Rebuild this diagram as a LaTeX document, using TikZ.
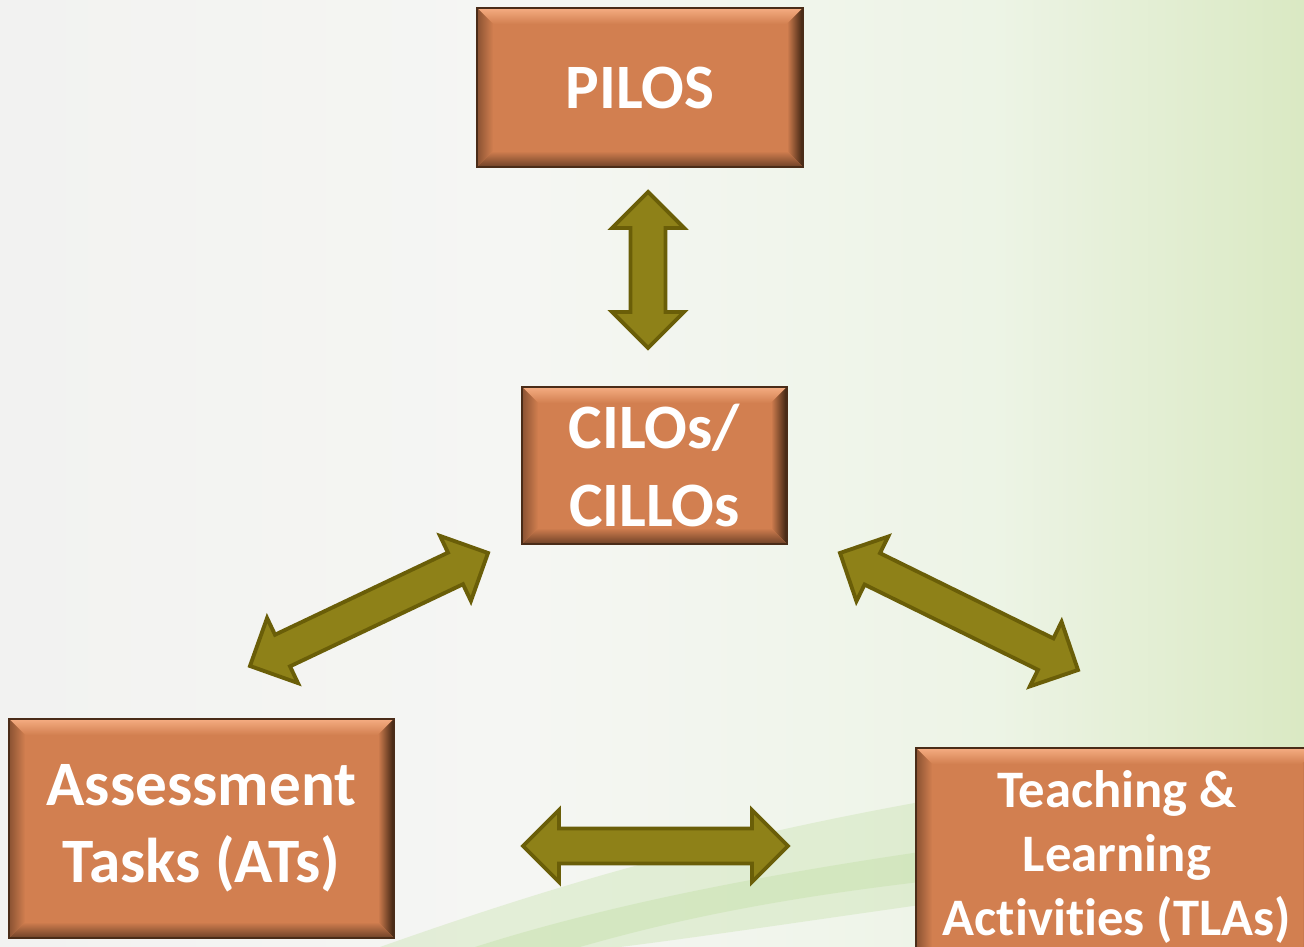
\documentclass[tikz,border=0pt]{standalone}
\usepackage{fontspec}
\setmainfont{Carlito}[Ligatures=NoCommon]
\usetikzlibrary{calc}

\definecolor{boxfill}{HTML}{D27F50}
\definecolor{boxline}{HTML}{4A2C18}
\definecolor{bevtop}{HTML}{F5AD82}
\definecolor{bevbot}{HTML}{6E4127}
\definecolor{bevdark}{HTML}{3A2110}
\definecolor{bevside}{HTML}{8A5232}
\definecolor{linkfill}{HTML}{8E8118}
\definecolor{linkline}{HTML}{6A5E08}
\definecolor{bgl}{HTML}{F2F2F1}
\definecolor{bgw}{HTML}{F5F6F3}
\definecolor{bgm}{HTML}{EDF4E6}
\definecolor{bgr}{HTML}{DAE9C3}
\definecolor{swoosh}{HTML}{C8E2AE}

\pgfdeclarehorizontalshading{backdrop}{100bp}{color(0bp)=(bgl); color(25bp)=(bgl);
  color(45bp)=(bgw); color(63bp)=(bgm); color(75bp)=(bgr); color(100bp)=(bgr)}

\newcommand{\twoway}[2]{%
  \draw[link] (#1)
    -- ($($(#1)!0.72cm!(#2)$)!0.72cm!90:(#2)$)
    -- ($($(#1)!0.72cm!(#2)$)!0.35cm!90:(#2)$)
    -- ($($(#2)!0.72cm!(#1)$)!0.35cm!-90:(#1)$)
    -- ($($(#2)!0.72cm!(#1)$)!0.72cm!-90:(#1)$)
    -- (#2)
    -- ($($(#2)!0.72cm!(#1)$)!0.72cm!90:(#1)$)
    -- ($($(#2)!0.72cm!(#1)$)!0.35cm!90:(#1)$)
    -- ($($(#1)!0.72cm!(#2)$)!0.35cm!-90:(#2)$)
    -- ($($(#1)!0.72cm!(#2)$)!0.72cm!-90:(#2)$)
    -- cycle;}

\begin{document}
\begin{tikzpicture}[main/.style={draw=boxline, line width=1pt, fill=boxfill, text=white, align=center, inner sep=0pt,
      font=\bfseries\fontsize{36}{44}\selectfont,
      path picture={
        \path (path picture bounding box.south west) coordinate (sw)
              (path picture bounding box.north east) coordinate (ne);
        \shade[top color=bevtop, bottom color=boxfill] (sw|-ne) -- (ne) -- ($(ne)+(-0.32,-0.32)$) -- ($(sw|-ne)+(0.32,-0.32)$) -- cycle;
        \shade[left color=boxfill, right color=bevdark] (ne) -- (ne|-sw) -- ($(ne|-sw)+(-0.32,0.32)$) -- ($(ne)+(-0.32,-0.32)$) -- cycle;
        \shade[top color=boxfill, bottom color=bevbot] (sw) -- (ne|-sw) -- ($(ne|-sw)+(-0.32,0.32)$) -- ($(sw)+(0.32,0.32)$) -- cycle;
        \shade[left color=bevside, right color=boxfill] (sw) -- (sw|-ne) -- ($(sw|-ne)+(0.32,-0.32)$) -- ($(sw)+(0.32,0.32)$) -- cycle;
      }},
    link/.style={draw=linkline, fill=linkfill, line width=2.2pt, line join=miter}]
  \useasboundingbox (0,0) rectangle (26.08,18.94);
  \clip (0,0) rectangle (26.08,18.94);
  \shade[shading=backdrop] (0,0) rectangle (26.08,18.94);
  \fill[swoosh, opacity=0.4] (7.6,0) .. controls (11,1.2) and (14,2.1) .. (18.4,2.9)
    -- (18.4,0.84) .. controls (16,0.5) and (14,0.2) .. (12.4,0) -- cycle;
  \fill[swoosh, opacity=0.5] (9.5,0) .. controls (12,0.8) and (15,1.4) .. (18.4,1.9)
    -- (18.4,1.3) .. controls (15,0.9) and (13,0.4) .. (11.6,0) -- cycle;

  \node[main, minimum width=6.52cm, minimum height=3.18cm] (0) at (12.8,17.19) {PILOS};
  \node[main, minimum width=5.3cm, minimum height=3.14cm] (1) at (13.09,9.63) {CILOs/\\CILLOs};
  \node[main, minimum width=7.7cm, minimum height=4.38cm] (2) at (4.03,2.37) {Assessment\\Tasks (ATs)};
  \node[main, minimum width=8.04cm, minimum height=4.36cm, font=\bfseries\fontsize{30}{36.5}\selectfont] (3) at (22.34,1.8) {Teaching \&\\Learning\\Activities (TLAs)};

  \coordinate (01) at (12.96,15.10);
  \coordinate (10) at (12.96,11.98);
  \coordinate (12) at (9.76,7.88);
  \coordinate (21) at (5.0,5.62);
  \coordinate (13) at (16.8,7.88);
  \coordinate (31) at (21.56,5.54);
  \coordinate (23) at (10.46,2.02);
  \coordinate (32) at (15.76,2.02);

  \twoway{01}{10}
  \twoway{12}{21}
  \twoway{13}{31}
  \twoway{23}{32}
\end{tikzpicture}
\end{document}
